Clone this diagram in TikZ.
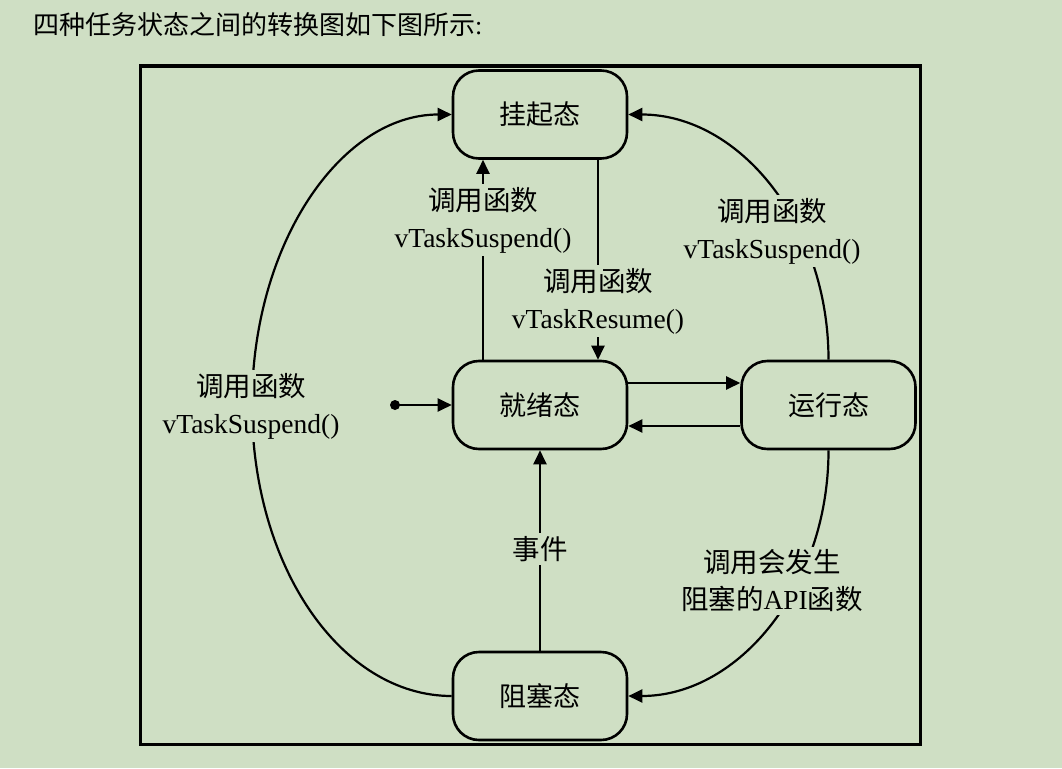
\documentclass[tikz,border=0pt]{standalone}
\usepackage{fontspec}
\setmainfont{Liberation Serif}
\newfontfamily\cjk{Noto Sans CJK SC}
\usetikzlibrary{arrows.meta}
\definecolor{bg}{RGB}{207,223,196}
\begin{document}
\begin{tikzpicture}[x=1pt,y=-1pt,
  state/.style={draw, line width=2.6pt, rounded corners=26pt, minimum width=174pt, minimum height=88pt, inner sep=0pt, font=\fontsize{27}{32}\selectfont\cjk},
  lbl/.style={fill=bg, align=center, inner sep=3pt, font=\fontsize{27.5}{37}\selectfont},
  arr/.style={line width=2.2pt, -{Triangle[length=14pt,width=13pt]}},
  frame/.style={draw, line width=3pt}
]
\fill[bg] (0,0) rectangle (1062,768);
\useasboundingbox (0,0) rectangle (1062,768);
\node[anchor=west, inner sep=0pt, font=\fontsize{26}{30}\selectfont] (title) at (33,25) {{\cjk 四种任务状态之间的转换图如下图所示}:};
\draw[frame] (140,66) rectangle (920,744);

\node[state] (sus) at (540,114.5) {挂起态};
\node[state] (rdy) at (540,405) {就绪态};
\node[state] (run) at (828.5,405) {运行态};
\node[state] (blk) at (540,696) {阻塞态};

\node[circle, fill, inner sep=0pt, minimum size=10pt] (init) at (395,405) {};
\coordinate (lmid) at (252,405);

\draw[arr] (init.center) -- (rdy.west);
\draw[arr] ([xshift=-57pt]rdy.north) -- ([xshift=-57pt]sus.south);
\draw[arr] ([xshift=58pt]sus.south) -- ([xshift=58pt]rdy.north);
\draw[arr] ([yshift=22pt]rdy.east) -- ([yshift=22pt]run.west);
\draw[arr] ([yshift=-21pt]run.west) -- ([yshift=-21pt]rdy.east);
\draw[arr] (blk.north) -- (rdy.south);
\draw[arr] (run.north) .. controls +(0,-136) and +(111,0) .. (sus.east);
\draw[arr] (run.south) .. controls +(0,136) and +(111,0) .. (blk.east);
\draw[arr] (blk.west) .. controls +(-111,0) and +(0,161) .. (lmid) .. controls +(0,-161) and +(-111,0) .. (sus.west);

\node[lbl] (l1) at (483,220) {{\cjk 调用函数}\\vTaskSuspend()};
\node[lbl] (l2) at (598,301) {{\cjk 调用函数}\\vTaskResume()};
\node[lbl] (l3) at (772,231) {{\cjk 调用函数}\\vTaskSuspend()};
\node[lbl] (l4) at (772,581) {{\cjk 调用会发生}\\{\cjk 阻塞的}API{\cjk 函数}};
\node[lbl] (l5) at (251,406) {{\cjk 调用函数}\\vTaskSuspend()};
\node[lbl] (l6) at (540,549) {\cjk 事件};
\end{tikzpicture}
\end{document}
